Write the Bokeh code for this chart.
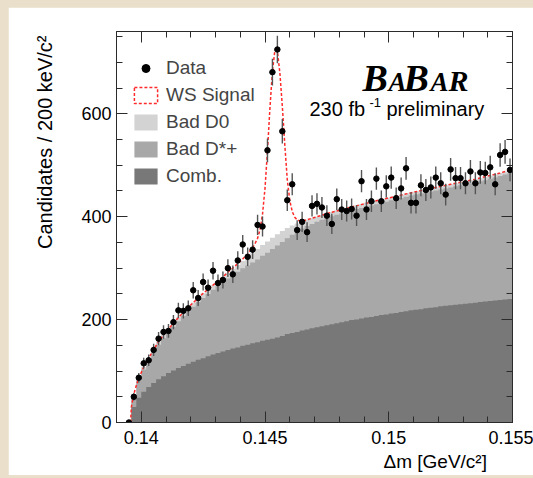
import numpy as np
from bokeh.plotting import figure
from bokeh.models import (FixedTicker, LinearAxis, Range1d, Label, Legend, Title,
                          LegendItem, PrintfTickFormatter, CustomJSTickFormatter)
from bokeh.layouts import column
from bokeh.embed import file_html
from bokeh.resources import INLINE

# ---------------- data ----------------
x_lo, x_hi = 0.139, 0.155
bin_width = 0.0002
first_data_center = 0.1395

data_counts = [0, 50, 87, 115, 121, 141, 163, 176, 178, 195, 218, 217, 222, 257, 242,
               273, 262, 295, 271, 277, 300, 288, 315, 346, 322, 336, 384, 381, 529,
               681, 725, 566, 432, 463, 374, 390, 370, 421, 425, 418, 402, 386, 434,
               414, 411, 415, 402, 469, 414, 430, 474, 430, 459, 476, 436, 455, 494,
               427, 427, 461, 452, 457, 476, 465, 443, 492, 475, 475, 465, 488, 465,
               486, 485, 496, 463, 520, 526, 491]

comb = [0, 0, 0,
        30, 48, 60, 69, 77, 84, 90, 96, 101, 106,
        110, 114, 118, 122, 125, 129, 132, 135, 138, 141,
        144, 146, 149, 151, 154, 156, 159, 161, 163, 165,
        168, 172, 174, 176, 179, 181, 183, 185, 187, 189,
        191, 193, 195, 197, 199, 200, 202, 204, 205, 207,
        209, 210, 212, 213, 215, 216, 218, 219, 220, 222,
        223, 224, 226, 227, 228, 229, 230, 231, 232, 233,
        234, 235, 236, 237, 238, 239, 240]

bad_dstar = [0, 0, 0,
             22, 34, 43, 51, 59, 67, 74, 79, 85, 91,
             97, 102, 107, 112, 117, 121, 126, 130, 135, 139,
             143, 147, 151, 154, 157, 161, 165, 169, 174, 179,
             183, 186, 191, 195, 198, 201, 203, 205, 207, 208,
             210, 211, 211, 212, 213, 215, 215, 216, 217, 217,
             218, 219, 220, 221, 221, 223, 223, 224, 225, 225,
             226, 227, 227, 228, 229, 230, 231, 232, 233, 234,
             235, 236, 238, 239, 241, 243, 245]

bad_d0 = [0, 0, 0,
          3, 4, 5, 5, 6, 6, 6, 7, 7, 7,
          7, 8, 8, 8, 9, 9, 9, 10, 10, 11,
          12, 13, 14, 16, 18, 20, 21, 22, 22, 22,
          21, 20, 18, 16, 14, 12, 11, 10, 9, 9,
          8, 8, 8, 8, 7, 7, 7, 7, 7, 7,
          7, 7, 6, 6, 6, 6, 6, 6, 6, 6,
          6, 6, 6, 6, 6, 6, 6, 6, 6, 6,
          6, 6, 6, 6, 6, 6, 6]

fit_x = [0.13957, 0.1396, 0.1397, 0.1398, 0.1399, 0.1401, 0.1403, 0.1405, 0.1407,
         0.1409, 0.1411, 0.1413, 0.1415, 0.1417, 0.1419, 0.1421, 0.1423, 0.1425,
         0.1427, 0.1429, 0.1431, 0.1433, 0.1435, 0.1437, 0.1439, 0.1441, 0.1443,
         0.1445, 0.1446, 0.1447, 0.1448, 0.1449, 0.1450, 0.1451, 0.1452, 0.1453,
         0.1454, 0.1455, 0.1456, 0.1457, 0.1458, 0.1459, 0.1460, 0.1461, 0.1462,
         0.1463, 0.1464, 0.1465, 0.1467, 0.1469, 0.1475, 0.1485, 0.1495, 0.1505,
         0.1515, 0.1525, 0.1535, 0.1545, 0.1550]
fit_y = [0, 30, 55, 72, 86, 108, 125, 142, 157,
         170, 182, 193, 204, 214, 224, 233, 242, 251,
         259, 267, 275, 283, 292, 300, 309, 318, 328,
         340, 348, 358, 375, 405, 455, 528, 612, 682,
         724, 722, 680, 615, 540, 472, 432, 410, 399,
         394, 392, 392, 394, 397, 406, 419, 431, 442,
         453, 463, 473, 485, 492]

x_major = [0.14, 0.145, 0.15, 0.155]
x_minor = [0.139, 0.140, 0.141, 0.142, 0.143, 0.144, 0.145, 0.146, 0.147, 0.148,
           0.149, 0.150, 0.151, 0.152, 0.153, 0.154, 0.155]
y_major = [0, 200, 400, 600]
y_minor = [0, 50, 100, 150, 200, 250, 300, 350, 400, 450, 500, 550, 600, 650, 700, 750]

x_title = "\u0394m [GeV/c\u00b2]"
y_title = "Candidates / 200 keV/c\u00b2"

# ---------------- derived ----------------
n_bins = len(comb)
edges = x_lo + bin_width * np.arange(n_bins + 1)
data_x = first_data_center + bin_width * np.arange(len(data_counts))
data_y = np.array(data_counts, dtype=float)
data_err = np.sqrt(data_y)

lvl_comb = np.array(comb, dtype=float)
lvl_dstar = lvl_comb + np.array(bad_dstar)
lvl_d0 = lvl_dstar + np.array(bad_d0)

step_x = np.repeat(edges, 2)[1:-1]
def step(v):
    return np.repeat(v, 2)

SANS = "Liberation Sans"
SERIF = "Liberation Serif"
RED = "#ff2a2a"

p = figure(width=525, height=468, output_backend="svg", toolbar_location=None,
           x_range=Range1d(x_lo, x_hi), y_range=Range1d(0, 760),
           min_border_left=107, min_border_right=21, min_border_top=24,
           min_border_bottom=53, margin=(7, 0, 3, 8))
p.background_fill_color = "white"
p.border_fill_color = "white"
p.outline_line_color = "#2b2b2b"
p.outline_line_width = 1
p.xgrid.visible = False
p.ygrid.visible = False

r_d0 = p.varea(x=step_x, y1=0, y2=step(lvl_d0), fill_color="#d3d3d3")
r_ds = p.varea(x=step_x, y1=0, y2=step(lvl_dstar), fill_color="#a8a8a8")
r_cb = p.varea(x=step_x, y1=0, y2=step(lvl_comb), fill_color="#787878")

p.line(fit_x, fit_y, line_color=RED, line_width=1.5, line_dash="3 2")
# zero-size box at the curve's start, only to give the legend a dashed box swatch
sig_box = p.quad(left=fit_x[:1], right=fit_x[:1], bottom=fit_y[:1], top=fit_y[:1],
                 fill_alpha=0, line_color=RED, line_width=1.5, line_dash="3 2")

p.segment(x0=data_x, y0=data_y - data_err, x1=data_x, y1=data_y + data_err,
          line_color="#555555", line_width=1.4)
r_data = p.scatter(data_x, data_y, size=5.5, color="black")

def style_axis(ax, ticks, minor, show_labels):
    ax.ticker = FixedTicker(ticks=ticks, minor_ticks=minor)
    ax.axis_line_color = "#2b2b2b"
    ax.axis_line_width = 1
    ax.major_tick_line_color = "#2b2b2b"
    ax.minor_tick_line_color = "#2b2b2b"
    ax.major_tick_in = 11
    ax.major_tick_out = 0
    ax.minor_tick_in = 6
    ax.minor_tick_out = 0
    ax.major_label_text_font = SANS
    ax.major_label_text_color = "black"
    ax.major_label_text_font_size = "18px"
    if not show_labels:
        ax.formatter = CustomJSTickFormatter(code="return ''")
        ax.major_label_standoff = 0

xa = p.xaxis[0]
style_axis(xa, x_major, x_minor, True)
xa.formatter = PrintfTickFormatter(format="%g")
xa.major_label_standoff = 8
ya = p.yaxis[0]
style_axis(ya, y_major, y_minor, True)
ya.major_label_standoff = 5

top_ax = LinearAxis()
style_axis(top_ax, x_major, x_minor, False)
p.add_layout(top_ax, "above")
right_ax = LinearAxis()
style_axis(right_ax, y_major, y_minor, False)
p.add_layout(right_ax, "right")

# axis titles (ROOT style: aligned to the far end of each axis)
p.add_layout(Title(text=x_title, align="left", offset=267, standoff=5,
                   text_font=SANS, text_font_size="19px", text_font_style="normal",
                   text_color="black"), "below")
p.add_layout(Title(text=y_title, align="right", offset=4, standoff=46,
                   text_font=SANS, text_font_size="20px", text_font_style="normal",
                   text_color="black"), "left")

legend = Legend(items=[
    LegendItem(label="Data", renderers=[r_data]),
    LegendItem(label="WS Signal", renderers=[sig_box]),
    LegendItem(label="Bad D0", renderers=[r_d0]),
    LegendItem(label="Bad D*+", renderers=[r_ds]),
    LegendItem(label="Comb.", renderers=[r_cb]),
], location=(15, 235), padding=0, margin=0, spacing=5,
    glyph_width=29, glyph_height=20, label_height=20, label_standoff=6,
    label_text_font=SANS, label_text_font_size="19px",
    border_line_alpha=0, background_fill_alpha=0)
p.add_layout(legend)

FRAME_BOTTOM = 421.7  # page y of the frame bottom, for converting text baselines
FRAME_LEFT = 115

def lab(text, px, base_y, size, font=SANS, style="normal", k=0.35):
    # place text so that its baseline sits at page row base_y
    mid = base_y - k * size
    p.add_layout(Label(x=px - FRAME_LEFT, y=FRAME_BOTTOM - mid, x_units="screen",
                       y_units="screen", text=text, text_font=font,
                       text_font_size=f"{size}px", text_font_style=style,
                       text_color="black", text_align="left", text_baseline="middle"))

# BaBar logo
lab("B", 361, 90, 38, SERIF, "bold italic", 0.34)
lab("A", 387, 90, 27, SERIF, "bold italic", 0.34)
lab("B", 402, 90, 38, SERIF, "bold italic", 0.34)
lab("A", 429, 90, 27, SERIF, "bold italic", 0.34)
lab("R", 447, 90, 30, SERIF, "bold italic", 0.34)
lab("230 fb", 308, 115, 20)
lab("-1", 368, 106, 13)
lab("preliminary", 385, 115, 20)

layout = column(p, width=533, height=478,
                styles={"background-color": "#e9dfcb"})
open("out.html", "w").write(file_html(layout, INLINE))
